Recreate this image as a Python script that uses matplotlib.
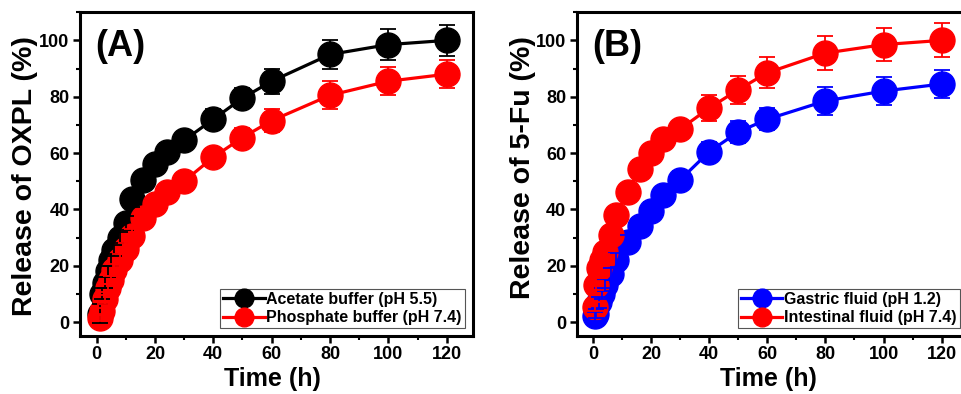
import matplotlib
matplotlib.use("Agg")
import matplotlib.pyplot as plt
from matplotlib.ticker import MultipleLocator

plt.rcParams["font.family"] = ["Liberation Sans", "DejaVu Sans"]
plt.rcParams["font.weight"] = "bold"
plt.rcParams["axes.labelweight"] = "bold"

# release data, panel A (OXPL)
time_a = [1, 2, 3, 4, 5, 6, 8, 10, 12, 16, 20, 24, 30, 40, 50, 60, 80, 100, 120]
acetate = [3, 10, 14, 18, 22, 25.5, 30, 35, 43.5, 50.5, 56, 60.5, 64.5, 72, 79.5, 85.5, 95, 98.5, 100]
acetate_err = [3.5, 2, 2, 2, 2, 2, 2, 2.5, 2.5, 2.5, 3, 3, 3, 3.5, 3.5, 4.5, 5, 5.5, 5.5]
phosphate = [1.5, 4, 8, 12, 15, 18.5, 22, 26, 30.5, 37, 42, 46, 50, 58.5, 65.5, 71.5, 80.5, 85.5, 88]
phosphate_err = [1, 1, 1.5, 1.5, 1.5, 2, 2, 2, 2.5, 2.5, 2.5, 3, 3, 3, 3.5, 4, 5, 5, 5]

# release data, panel B (5-Fu)
time_b = [0.5, 1, 2, 3, 4, 6, 8, 12, 16, 20, 24, 30, 40, 50, 60, 80, 100, 120]
gastric = [2, 3, 7, 10, 13, 17, 22, 28.5, 34, 39.5, 45, 50.5, 60.5, 67.5, 72, 78.5, 82, 84.5]
gastric_err = [1.5, 1.5, 2, 2, 2, 2, 2.5, 2.5, 2.5, 3, 3, 3, 3.5, 4, 4, 5, 5, 5]
intestinal = [5.5, 13, 19, 22, 25, 31, 38, 46, 54.5, 60, 65, 68.5, 76, 82.5, 88.5, 95.5, 98.5, 100]
intestinal_err = [1.5, 1.5, 1.5, 2, 2, 2, 2.5, 2.5, 3, 3, 3, 3, 4.5, 5, 5.5, 6, 6, 6]

fig = plt.figure(figsize=(9.61, 3.94), dpi=100)
ax1 = fig.add_axes([0.0832, 0.147, 0.409, 0.822])
ax2 = fig.add_axes([0.600, 0.147, 0.407, 0.822])


def draw_series(ax, t, y, err, color, label):
    ax.plot(t, y, "-o", color=color, lw=2.3, ms=18, label=label, zorder=3)
    ax.errorbar(t, y, yerr=err, fmt="none", ecolor=color, elinewidth=1.3,
                capsize=6, capthick=1.3, zorder=5)


def style_axes(ax, ylabel, tag, leg_x):
    ax.set_xlim(-5.7, 129)
    ax.set_ylim(-5, 110)
    ax.xaxis.set_major_locator(MultipleLocator(20))
    ax.xaxis.set_minor_locator(MultipleLocator(10))
    ax.yaxis.set_major_locator(MultipleLocator(20))
    ax.yaxis.set_minor_locator(MultipleLocator(10))
    for s in ax.spines.values():
        s.set_linewidth(2.2)
    ax.tick_params(which="major", direction="out", length=5, width=1.8,
                   labelsize=13, pad=2.5)
    ax.tick_params(which="minor", direction="out", length=3, width=1.5)
    ax.set_xlabel("Time (h)", fontsize=18)
    ax.set_ylabel(ylabel, fontsize=20.5)
    ax.xaxis.set_label_coords(0.49, -0.095)
    ax.text(0.04, 0.893, tag, transform=ax.transAxes, fontsize=26,
            fontweight="bold", va="center", ha="left")
    leg = ax.legend(loc="lower left", bbox_to_anchor=(leg_x, 0.024),
                    fontsize=11.5, frameon=True, fancybox=False,
                    edgecolor="#555555", framealpha=1, borderaxespad=0,
                    borderpad=0.2, labelspacing=0.2, handlelength=2.6,
                    handletextpad=0.1, markerscale=0.75)
    leg.get_frame().set_linewidth(0.8)


draw_series(ax1, time_a, acetate, acetate_err, "black", "Acetate buffer (pH 5.5)")
draw_series(ax1, time_a, phosphate, phosphate_err, "#ff0000", "Phosphate buffer (pH 7.4)")
style_axes(ax1, "Release of OXPL (%)", "(A)", 0.356)
ax1.yaxis.set_label_coords(-0.108, 0.494)

draw_series(ax2, time_b, gastric, gastric_err, "#0000ff", "Gastric fluid (pH 1.2)")
draw_series(ax2, time_b, intestinal, intestinal_err, "#ff0000", "Intestinal fluid (pH 7.4)")
style_axes(ax2, "Release of 5-Fu (%)", "(B)", 0.412)
ax2.yaxis.set_label_coords(-0.104, 0.52)

fig.savefig("out.png", dpi=100)
